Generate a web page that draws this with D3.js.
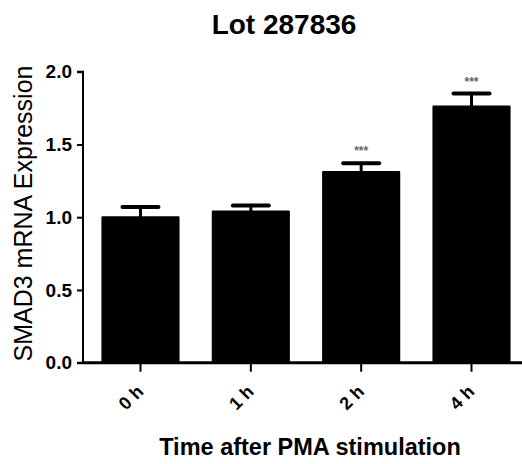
<!DOCTYPE html>
<html>
<head>
<meta charset="utf-8">
<script src="https://cdn.jsdelivr.net/npm/d3@7"></script>
<style>
  html, body { margin: 0; padding: 0; background: #fff; }
  svg { display: block; font-family: "Liberation Sans", Arial, sans-serif; }
</style>
</head>
<body>
<svg id="chart" width="522" height="464"></svg>
<script>
const categories = ["0 h", "1 h", "2 h", "4 h"];
const values = [1.00, 1.04, 1.31, 1.76];
const errors = [0.07, 0.04, 0.06, 0.09];
const significance = ["", "", "***", "***"];
const yTicks = [0.0, 0.5, 1.0, 1.5, 2.0];
const title = "Lot 287836";
const xTitle = "Time after PMA stimulation";
const yTitle = "SMAD3 mRNA Expression";

const svg = d3.select("#chart");
const W = 522, H = 464;
const x0 = 83, yBottom = 362.7, yTop = 71.7;

const x = d3.scaleBand().domain(categories).range([x0, 529]).paddingInner(0.31).paddingOuter(0.176);
const y = d3.scaleLinear().domain([0, 2]).range([yBottom, yTop]);

// title
svg.append("text").attr("x", 284).attr("y", 34).attr("text-anchor", "middle")
  .attr("font-size", 28).attr("font-weight", "bold").text(title);

// bars
const data = categories.map((c, i) => ({ c, v: values[i], e: errors[i], s: significance[i] }));
svg.append("g").selectAll("rect").data(data).join("rect")
  .attr("x", d => x(d.c)).attr("width", x.bandwidth())
  .attr("y", d => y(d.v)).attr("height", d => y(0) - y(d.v))
  .attr("fill", "#000").attr("stroke", "#000").attr("stroke-width", 2).attr("stroke-linejoin", "round");

// error bars
const eg = svg.append("g").attr("stroke", "#000");
eg.selectAll("line.stem").data(data).join("line").attr("class", "stem")
  .attr("x1", d => x(d.c) + x.bandwidth() / 2).attr("x2", d => x(d.c) + x.bandwidth() / 2)
  .attr("y1", d => y(d.v)).attr("y2", d => y(d.v + d.e)).attr("stroke-width", 3);
eg.selectAll("line.cap").data(data).join("line").attr("class", "cap")
  .attr("x1", d => x(d.c) + x.bandwidth() / 2 - 18).attr("x2", d => x(d.c) + x.bandwidth() / 2 + 18)
  .attr("y1", d => y(d.v + d.e)).attr("y2", d => y(d.v + d.e))
  .attr("stroke-width", 4).attr("stroke-linecap", "round");

// significance
svg.append("g").selectAll("text").data(data.filter(d => d.s)).join("text")
  .attr("x", d => x(d.c) + x.bandwidth() / 2).attr("y", d => y(d.v + d.e) - 8)
  .attr("text-anchor", "middle").attr("font-size", 12).attr("font-weight", "bold")
  .attr("fill", "#666").text(d => d.s);

// y axis
const yAxis = svg.append("g").attr("transform", `translate(${x0},0)`)
  .call(d3.axisLeft(y).tickValues(yTicks).tickFormat(d3.format(".1f")).tickSize(6).tickPadding(5));
yAxis.select(".domain").attr("stroke-width", 2).attr("d", `M-6,${yTop}H0V${yBottom}H-6`);
yAxis.selectAll(".tick line").attr("stroke-width", 2);
yAxis.selectAll(".tick text").attr("font-size", 19).attr("font-weight", "bold")
  .attr("font-family", "'Liberation Sans', Arial, sans-serif").attr("fill", "#000");

// x axis
const xAxis = svg.append("g").attr("transform", `translate(0,${yBottom})`)
  .call(d3.axisBottom(x).tickSize(9).tickPadding(6));
xAxis.select(".domain").attr("stroke-width", 3).attr("d", `M${x0},0H${W}`);
xAxis.selectAll(".tick line").attr("stroke-width", 2);
xAxis.selectAll(".tick text").attr("font-size", 18).attr("font-weight", "bold")
  .attr("font-family", "'Liberation Sans', Arial, sans-serif").attr("fill", "#000")
  .attr("text-anchor", "end").attr("x", 0).attr("y", 0).attr("dy", null)
  .attr("transform", "translate(4,30) rotate(-45)");

// axis titles
svg.append("text").attr("x", 310).attr("y", 455).attr("text-anchor", "middle")
  .attr("font-size", 23.5).attr("font-weight", "bold").text(xTitle);
svg.append("text").attr("transform", `translate(32,${(65 + 362) / 2}) rotate(-90)`)
  .attr("text-anchor", "middle").attr("font-size", 25).text(yTitle);
</script>
</body>
</html>
